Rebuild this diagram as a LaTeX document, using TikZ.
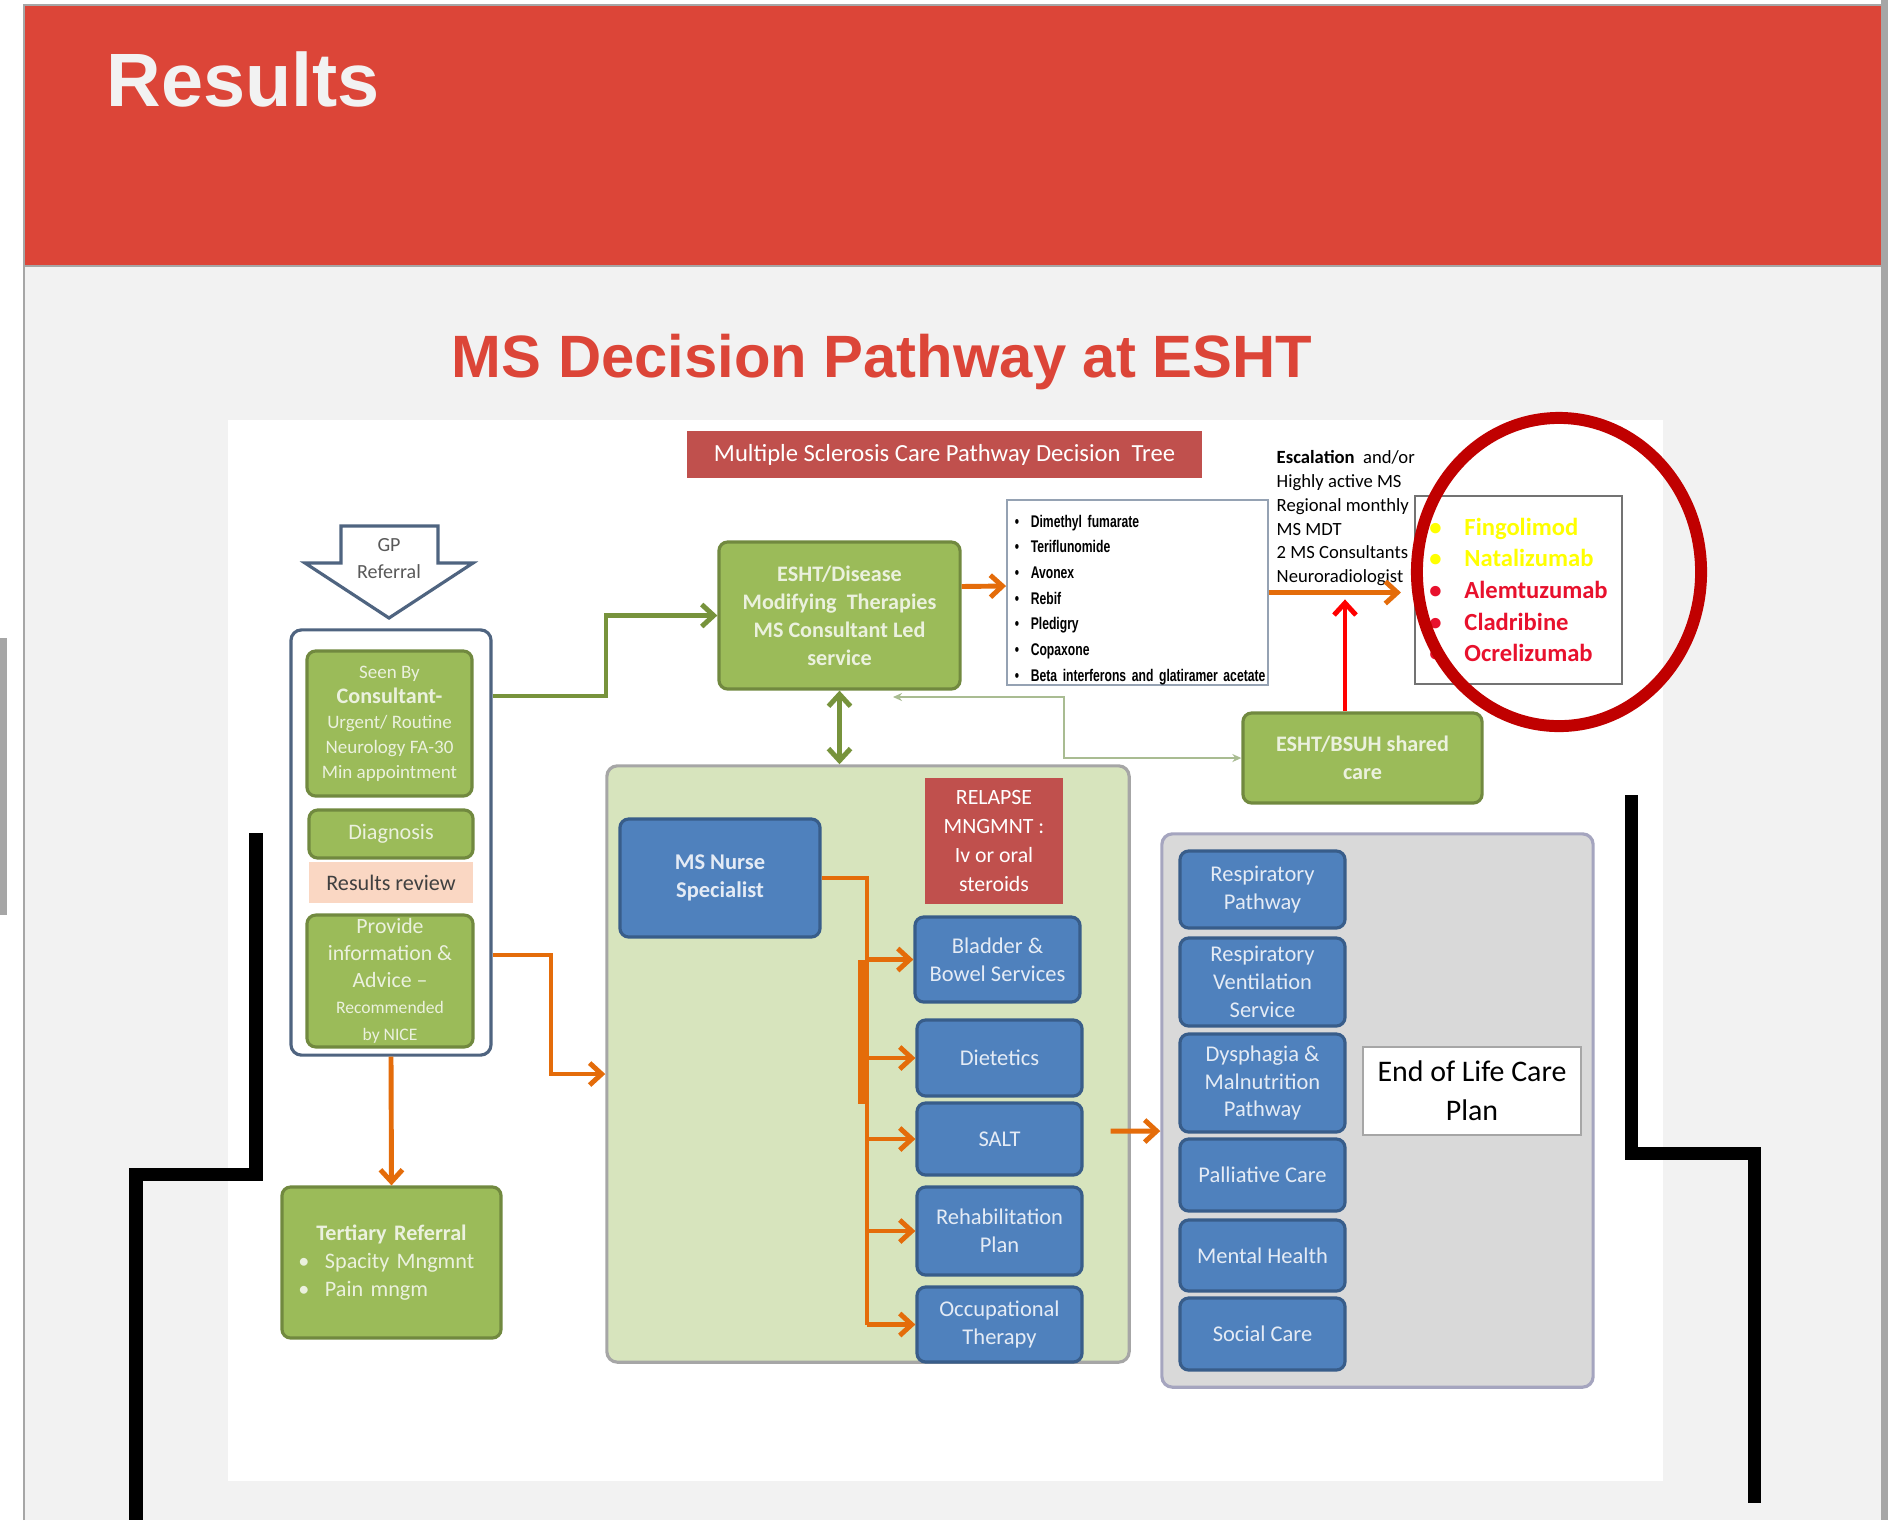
\documentclass[tikz,border=0pt]{standalone}
\usepackage{fontspec}
\setmainfont{Carlito}
\newfontfamily\headfont{Liberation Sans}
\newfontfamily\narrowfont[FakeStretch=0.72]{Liberation Sans}
\usepackage{xcolor}
\usepackage{tikz}
\usetikzlibrary{shapes}
\usetikzlibrary{arrows.meta}
\definecolor{hdrred}{HTML}{DC4538}
\definecolor{pagegray}{HTML}{F2F2F2}
\definecolor{edgegray}{HTML}{A6A6A6}
\definecolor{bannerred}{HTML}{C0504D}
\definecolor{msgreen}{HTML}{9BBB59}
\definecolor{msgreenedge}{HTML}{71893F}
\definecolor{greentext}{HTML}{EBF1DE}
\definecolor{msblue}{HTML}{4F81BD}
\definecolor{msblueedge}{HTML}{385D8A}
\definecolor{bluetext}{HTML}{E4EBF5}
\definecolor{msorange}{HTML}{E46C0A}
\definecolor{palegreen}{HTML}{D7E4BD}
\definecolor{panelgray}{HTML}{D9D9D9}
\definecolor{paneledge}{HTML}{A5A5BF}
\definecolor{peach}{HTML}{FAD7C3}
\definecolor{ringred}{HTML}{C00000}
\definecolor{drugred}{HTML}{E8112D}
\definecolor{drugyellow}{HTML}{FFFF00}
\definecolor{linkgreen}{HTML}{77933C}
\definecolor{thinlink}{HTML}{A9BC92}
\definecolor{slate}{HTML}{4F6480}
\tikzset{
	green node/.style={rectangle,draw=msgreenedge,fill=msgreen,line width=0.9pt,rounded corners=2.5pt,
		text=greentext,align=center,inner sep=1pt,font=\fontsize{6.3}{8}\selectfont},
	blue node/.style={rectangle,draw=msblueedge,fill=msblue,line width=0.9pt,rounded corners=2.5pt,
		text=bluetext,align=center,inner sep=1pt,minimum width=1.65cm,font=\fontsize{6.4}{7.9}\selectfont},
	red node/.style={rectangle,fill=bannerred,text=white,align=center,inner sep=1pt},
	list node/.style={rectangle,draw=edgegray,fill=white,line width=0.5pt,align=left,inner sep=0pt},
	panel/.style={rectangle,rounded corners=3pt,line width=0.9pt},
	orange line/.style={draw=msorange,line width=1.4pt},
	orange arrow/.style={draw=msorange,line width=1.4pt,->},
	green arrow/.style={draw=linkgreen,line width=1.4pt,->},
	black bar/.style={draw=black,line width=3.7pt}
}

\begin{document}
\begin{tikzpicture}[x=0.01cm,y=-0.01cm,>={Straight Barb[length=0.12cm,width=0.22cm]}]
	\useasboundingbox (0,0) rectangle (1888,1520);
	\fill[white] (0,0) rectangle (1888,1520);
	\fill[edgegray] (0,638) rectangle (7,915);
	\fill[pagegray] (24,5) rectangle (1882,1520);
	\fill[hdrred] (24,6) rectangle (1882,265);
	\draw[edgegray,line width=0.8pt] (24,1520) -- (24,5) -- (1882,5);
	\draw[edgegray,line width=0.8pt] (24,266) -- (1882,266);
	\fill[edgegray] (1881,0) rectangle (1888,1520);
	\node[anchor=base west,inner sep=0pt,text=pagegray,font=\headfont\bfseries\fontsize{21.5}{24}\selectfont] (1) at (106,106) {Results};
	\node[anchor=base,inner sep=0pt,text=hdrred,font=\headfont\bfseries\fontsize{17}{20}\selectfont] (2) at (882,377) {MS Decision Pathway at ESHT};
	\fill[white] (228,420) rectangle (1663,1481);

	\node[red node,minimum width=5.15cm,minimum height=0.47cm,font=\fontsize{7}{8}\selectfont] (3) at (944.5,454.5) {Multiple Sclerosis Care Pathway Decision~ Tree};

	\draw[slate,line width=0.9pt,fill=white] (341,526) -- (438,526) -- (438,563) -- (473,563) -- (389,618) -- (305,563) -- (341,563) -- cycle;
	\node[align=center,inner sep=0pt,text=black!65,font=\fontsize{5.7}{7.7}\selectfont] (4) at (389,559) {GP\\Referral};

	\node[panel,draw=slate,fill=white,minimum width=2cm,minimum height=4.25cm] (5) at (391,842.5) {};
	\node[green node,minimum width=1.65cm,minimum height=1.45cm,font=\fontsize{5.4}{7.1}\selectfont] (6) at (389.5,723.5)
		{Seen By\\{\fontsize{6.3}{7.1}\selectfont\bfseries Consultant-}\\Urgent/ Routine\\Neurology FA-30\\Min appointment};
	\node[green node,minimum width=1.64cm,minimum height=0.48cm] (7) at (391,834) {Diagnosis};
	\node[rectangle,fill=peach,text=black!75,minimum width=1.64cm,minimum height=0.41cm,font=\fontsize{6.3}{8}\selectfont] (8) at (391,882.5) {Results review};
	\node[green node,minimum width=1.66cm,minimum height=1.28cm,font=\fontsize{6.2}{7.6}\selectfont] (9) at (390,981)
		{Provide\\information \&\\Advice --\\{\fontsize{5}{6.8}\selectfont Recommended}\\{\fontsize{5}{6.8}\selectfont by NICE}};
	\node[green node,minimum width=2.19cm,minimum height=1.51cm,text width=1.86cm,align=left] (10) at (391.5,1262.5)
		{\hfill\textbf{Tertiary Referral}\hfill\null\\ \textbullet\hspace{0.7em}Spacity Mngmnt\\ \textbullet\hspace{0.7em}Pain mngm};

	\node[green node,minimum width=2.41cm,minimum height=1.47cm,font=\fontsize{6.3}{8}\selectfont\bfseries] (11) at (839.5,615.5)
		{ESHT/Disease\\Modifying~ Therapies\\MS Consultant Led\\service};
	\node[list node,draw=slate!60,minimum width=2.61cm,minimum height=1.85cm,text width=2.45cm,font=\narrowfont\bfseries\fontsize{4.8}{7.3}\selectfont] (12) at (1137.5,592.5)
		{\rule{0pt}{0.27cm}\textbullet\hspace{3.3pt}Dimethyl fumarate\\ \textbullet\hspace{3.3pt}Teriflunomide\\ \textbullet\hspace{3.3pt}Avonex\\ \textbullet\hspace{3.3pt}Rebif\\
		\textbullet\hspace{3.3pt}Pledigry\\ \textbullet\hspace{3.3pt}Copaxone\\ \mbox{\textbullet\hspace{3.3pt}Beta interferons and glatiramer acetate}};
	\node[anchor=north west,inner sep=0pt,align=left,font=\fontsize{5.3}{6.75}\selectfont] (13) at (1276,450)
		{\textbf{Escalation}~ and/or\\Highly active MS\\Regional monthly\\MS MDT\\2 MS Consultants\\Neuroradiologist};
	\node[list node,draw=black!55,minimum width=2.07cm,minimum height=1.88cm,font=\fontsize{7}{9}\selectfont\bfseries] (14) at (1518.5,590)
		{\textcolor{drugyellow}{\textbullet\hspace{6.5pt}Fingolimod}\\ \textcolor{drugyellow}{\textbullet\hspace{6.5pt}Natalizumab}\\
		\textcolor{drugred}{\textbullet\hspace{6.5pt}Alemtuzumab}\\ \textcolor{drugred}{\textbullet\hspace{6.5pt}Cladribine}\\ \textcolor{drugred}{\textbullet\hspace{6.5pt}Ocrelizumab}};
	\draw[ringred,line width=3.4pt] (1559,572) ellipse [x radius=1.42cm,y radius=1.54cm];
	\node[green node,minimum width=2.39cm,minimum height=0.9cm,font=\fontsize{6.3}{8}\selectfont\bfseries] (15) at (1362.5,758) {ESHT/BSUH shared\\care};

	\node[panel,draw=edgegray,fill=palegreen,minimum width=5.22cm,minimum height=5.96cm] (16) at (868,1064) {};
	\node[blue node,minimum width=2cm,minimum height=1.18cm,font=\fontsize{6.4}{8}\selectfont\bfseries] (17) at (720,878) {MS Nurse\\Specialist};
	\node[red node,minimum width=1.38cm,minimum height=1.26cm,font=\fontsize{6.2}{8.2}\selectfont] (18) at (994,841) {RELAPSE\\MNGMNT :\\Iv or oral\\steroids};
	\node[blue node,minimum height=0.85cm] (19) at (997.5,959.5) {Bladder \&\\Bowel Services};
	\node[blue node,minimum height=0.76cm] (20) at (999.5,1058) {Dietetics};
	\node[blue node,minimum height=0.72cm] (21) at (999.5,1139) {SALT};
	\node[blue node,minimum height=0.88cm] (22) at (999.5,1231) {Rehabilitation\\Plan};
	\node[blue node,minimum height=0.75cm] (23) at (999.5,1324.5) {Occupational\\Therapy};

	\node[panel,draw=paneledge,fill=panelgray,minimum width=4.31cm,minimum height=5.53cm] (24) at (1377.5,1110.5) {};
	\node[blue node,minimum height=0.77cm] (25) at (1262.5,889.5) {Respiratory\\Pathway};
	\node[blue node,minimum height=0.88cm] (26) at (1262.5,982) {Respiratory\\Ventilation\\Service};
	\node[blue node,minimum height=0.98cm] (27) at (1262.5,1083) {Dysphagia \&\\Malnutrition\\Pathway};
	\node[blue node,minimum height=0.72cm] (28) at (1262.5,1175) {Palliative Care};
	\node[blue node,minimum height=0.71cm] (29) at (1262.5,1255.5) {Mental Health};
	\node[blue node,minimum height=0.72cm] (30) at (1262.5,1334) {Social Care};
	\node[rectangle,draw=edgegray,fill=white,line width=0.5pt,minimum width=2.18cm,minimum height=0.88cm,align=center,font=\fontsize{8.5}{11}\selectfont] (31) at (1472,1091)
		{End of Life Care\\Plan};

	\coordinate (g1) at (606,696);
	\draw[green arrow] (5.east |- g1) -- (g1) |- (11.west);
	\draw[green arrow,<->] (11.south) -- (11.south |- 16.north);
	\draw[orange arrow] ([yshift=0.29cm]11.east) -- ([yshift=0.065cm]12.west);
	\draw[orange arrow] (12.east) -- ++(132,0);
	\draw[red,line width=1.4pt,->] ([xshift=-0.175cm]15.north) -- ++(0,-112);
	\coordinate (t1) at (893,697);
	\coordinate (t2) at (1064,697);
	\draw[thinlink,line width=0.6pt,{Stealth[length=0.09cm,width=0.08cm]}-{Stealth[length=0.09cm,width=0.08cm]}] (t1) -- (t2) |- (15.west);

	\coordinate (o1) at (551,955);
	\draw[orange arrow] (5.east |- o1) -- (o1) |- ([yshift=-0.1cm]16.west);
	\draw[orange arrow] (5.south) -- (10.north);

	\coordinate (n1) at (867,878);
	\draw[orange line] (17.east) -- (n1) -- (n1 |- 23.west);
	\draw[msorange,line width=2.8pt] ([xshift=-0.04cm]n1 |- 19.west) -- ([xshift=-0.04cm,yshift=0.35cm]n1 |- 21.west);
	\draw[orange arrow] (n1 |- 19.west) -- (19.west);
	\draw[orange arrow] (n1 |- 20.west) -- (20.west);
	\draw[orange arrow] (n1 |- 21.west) -- (21.west);
	\draw[orange arrow] (n1 |- 22.west) -- (22.west);
	\draw[orange arrow] (n1 |- 23.west) -- (23.west);
	\draw[orange arrow] ([xshift=-0.2cm,yshift=-0.67cm]16.east) -- ([yshift=-0.205cm]24.west);

	\draw[black bar] (256,833) -- (256,1174) -- (136,1174) -- (136,1520);
	\draw[black bar] (1631,795) -- (1631,1153) -- (1754,1153) -- (1754,1503);
\end{tikzpicture}
\end{document}
